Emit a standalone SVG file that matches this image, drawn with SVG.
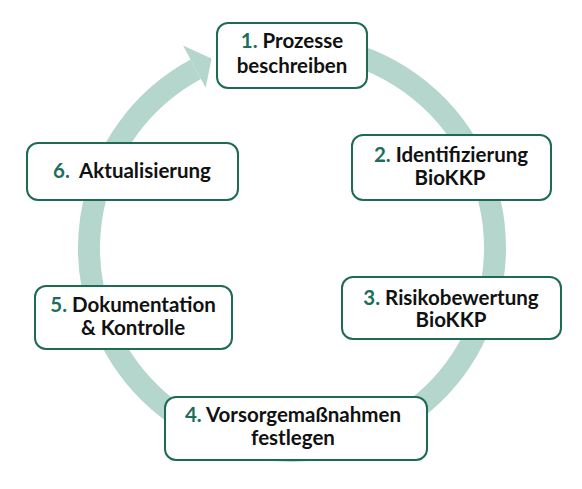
<svg xmlns="http://www.w3.org/2000/svg" width="582" height="489" viewBox="0 0 582 489">
<style>
.box{fill:#ffffff;stroke:#1e6b55;stroke-width:2}
.t{font-family:Lato,"Open Sans","Liberation Sans",sans-serif;font-weight:bold;font-size:20.5px;fill:#111111;text-anchor:middle}
.n{fill:#1c6e5c}
.ring{fill:none;stroke:#b5d6cd;stroke-width:22}
</style>
<rect width="582" height="489" fill="#ffffff"/>
<g id="connectors">
<path class="ring" d="M 327.25 48.08 A 203 203 0 1 1 195.76 69.26"/>
<polygon points="183,45.5 211.5,58.4 205.7,87.7" fill="#b5d6cd"/>
</g>
<g id="node1">
<rect class="box" x="217" y="23" width="150" height="65" rx="11"/>
<text class="t" x="292" y="48"><tspan class="n">1.</tspan> Prozesse</text>
<text class="t" x="292" y="73">beschreiben</text>
</g>
<g id="node2">
<rect class="box" x="352" y="135" width="199" height="65" rx="11"/>
<text class="t" x="451" y="162"><tspan class="n">2.</tspan> Identifizierung</text>
<text class="t" x="450" y="185">BioKKP</text>
</g>
<g id="node3">
<rect class="box" x="342" y="277" width="219" height="62" rx="11"/>
<text class="t" x="451" y="305"><tspan class="n">3.</tspan> Risikobewertung</text>
<text class="t" x="451" y="327">BioKKP</text>
</g>
<g id="node4">
<rect class="box" x="165" y="397" width="262" height="63" rx="11"/>
<text class="t" x="293" y="422"><tspan class="n">4.</tspan> Vorsorgemaßnahmen</text>
<text class="t" x="293" y="445">festlegen</text>
</g>
<g id="node5">
<rect class="box" x="35" y="286" width="197" height="63" rx="11"/>
<text class="t" x="133" y="312"><tspan class="n">5.</tspan> Dokumentation</text>
<text class="t" x="133" y="335">&amp; Kontrolle</text>
</g>
<g id="node6">
<rect class="box" x="27" y="143" width="211" height="57" rx="11"/>
<text class="t" x="132" y="178" xml:space="preserve"><tspan class="n">6.</tspan>  Aktualisierung</text>
</g>
</svg>
